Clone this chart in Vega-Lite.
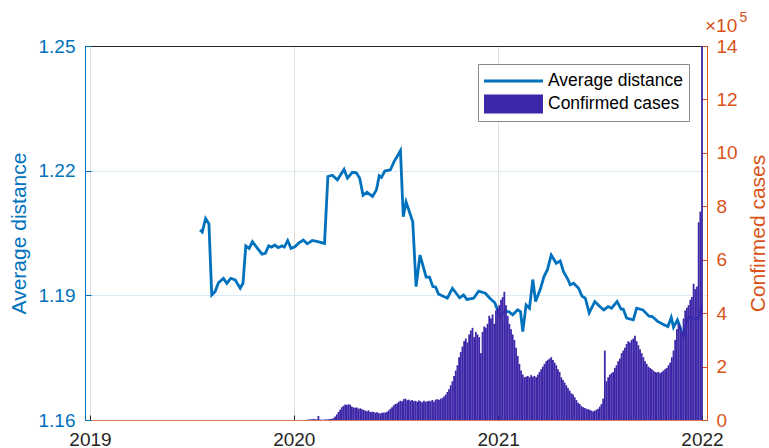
{
  "$schema": "https://vega.github.io/schema/vega-lite/v6.json",
  "width": 622,
  "height": 374,
  "autosize": "none",
  "padding": {"left": 85, "top": 46, "right": 62, "bottom": 28},
  "background": "white",
  "config": {
    "font": "Liberation Sans",
    "view": {"stroke": "#262626", "strokeWidth": 1},
    "axis": {
      "labelFont": "Liberation Sans",
      "titleFont": "Liberation Sans",
      "labelFontSize": 19,
      "titleFontSize": 21,
      "titleFontWeight": "normal",
      "domainWidth": 1,
      "tickWidth": 1
    }
  },
  "datasets": {
    "distance": [
      {"date": "2019-07-17", "avg": 1.2057}, {"date": "2019-07-21", "avg": 1.2052}, {"date": "2019-07-27", "avg": 1.2085},
      {"date": "2019-08-02", "avg": 1.2072}, {"date": "2019-08-07", "avg": 1.1901}, {"date": "2019-08-13", "avg": 1.1909},
      {"date": "2019-08-19", "avg": 1.1930}, {"date": "2019-08-28", "avg": 1.1941}, {"date": "2019-09-03", "avg": 1.1929},
      {"date": "2019-09-10", "avg": 1.1941}, {"date": "2019-09-18", "avg": 1.1937}, {"date": "2019-09-27", "avg": 1.1917},
      {"date": "2019-10-02", "avg": 1.1929}, {"date": "2019-10-07", "avg": 1.2019}, {"date": "2019-10-13", "avg": 1.2013},
      {"date": "2019-10-19", "avg": 1.2029}, {"date": "2019-10-28", "avg": 1.2013}, {"date": "2019-11-05", "avg": 1.1999},
      {"date": "2019-11-11", "avg": 1.2001}, {"date": "2019-11-17", "avg": 1.2019}, {"date": "2019-11-22", "avg": 1.2016},
      {"date": "2019-11-28", "avg": 1.2021}, {"date": "2019-12-04", "avg": 1.2015}, {"date": "2019-12-11", "avg": 1.2019},
      {"date": "2019-12-15", "avg": 1.2016}, {"date": "2019-12-21", "avg": 1.2032}, {"date": "2019-12-27", "avg": 1.2013},
      {"date": "2020-01-03", "avg": 1.2017}, {"date": "2020-01-09", "avg": 1.2025}, {"date": "2020-01-18", "avg": 1.2033},
      {"date": "2020-01-25", "avg": 1.2024}, {"date": "2020-02-03", "avg": 1.2032}, {"date": "2020-02-13", "avg": 1.2029},
      {"date": "2020-02-25", "avg": 1.2025}, {"date": "2020-03-02", "avg": 1.2186}, {"date": "2020-03-10", "avg": 1.2189},
      {"date": "2020-03-19", "avg": 1.2178}, {"date": "2020-03-31", "avg": 1.2203}, {"date": "2020-04-06", "avg": 1.2182},
      {"date": "2020-04-15", "avg": 1.2196}, {"date": "2020-04-22", "avg": 1.2195}, {"date": "2020-04-28", "avg": 1.2182},
      {"date": "2020-05-04", "avg": 1.2141}, {"date": "2020-05-11", "avg": 1.2148}, {"date": "2020-05-21", "avg": 1.2138},
      {"date": "2020-05-28", "avg": 1.2154}, {"date": "2020-06-02", "avg": 1.2188}, {"date": "2020-06-06", "avg": 1.2184},
      {"date": "2020-06-12", "avg": 1.2199}, {"date": "2020-06-22", "avg": 1.2202}, {"date": "2020-06-29", "avg": 1.2223},
      {"date": "2020-07-04", "avg": 1.2234}, {"date": "2020-07-10", "avg": 1.2248}, {"date": "2020-07-15", "avg": 1.2089},
      {"date": "2020-07-20", "avg": 1.2125}, {"date": "2020-08-01", "avg": 1.2077}, {"date": "2020-08-07", "avg": 1.1921},
      {"date": "2020-08-14", "avg": 1.1997}, {"date": "2020-08-25", "avg": 1.1944}, {"date": "2020-08-31", "avg": 1.1944},
      {"date": "2020-09-06", "avg": 1.1921}, {"date": "2020-09-11", "avg": 1.1920}, {"date": "2020-09-16", "avg": 1.1903},
      {"date": "2020-10-02", "avg": 1.1893}, {"date": "2020-10-11", "avg": 1.1917}, {"date": "2020-10-24", "avg": 1.1894},
      {"date": "2020-10-31", "avg": 1.1901}, {"date": "2020-11-06", "avg": 1.1890}, {"date": "2020-11-18", "avg": 1.1893},
      {"date": "2020-11-27", "avg": 1.1910}, {"date": "2020-12-09", "avg": 1.1905}, {"date": "2020-12-17", "avg": 1.1893},
      {"date": "2020-12-26", "avg": 1.1882}, {"date": "2021-01-04", "avg": 1.1849}, {"date": "2021-01-13", "avg": 1.1861},
      {"date": "2021-01-20", "avg": 1.1861}, {"date": "2021-01-27", "avg": 1.1853}, {"date": "2021-02-05", "avg": 1.1865},
      {"date": "2021-02-10", "avg": 1.1861}, {"date": "2021-02-14", "avg": 1.1813}, {"date": "2021-02-20", "avg": 1.1877},
      {"date": "2021-02-26", "avg": 1.1869}, {"date": "2021-03-04", "avg": 1.1938}, {"date": "2021-03-09", "avg": 1.1885},
      {"date": "2021-03-18", "avg": 1.1917}, {"date": "2021-03-24", "avg": 1.1945}, {"date": "2021-03-30", "avg": 1.1961},
      {"date": "2021-04-06", "avg": 1.1997}, {"date": "2021-04-15", "avg": 1.1977}, {"date": "2021-04-22", "avg": 1.1983},
      {"date": "2021-04-28", "avg": 1.1957}, {"date": "2021-05-06", "avg": 1.1938}, {"date": "2021-05-10", "avg": 1.1925},
      {"date": "2021-05-16", "avg": 1.1929}, {"date": "2021-05-25", "avg": 1.1917}, {"date": "2021-05-31", "avg": 1.1898},
      {"date": "2021-06-06", "avg": 1.1893}, {"date": "2021-06-13", "avg": 1.1858}, {"date": "2021-06-23", "avg": 1.1885},
      {"date": "2021-07-02", "avg": 1.1873}, {"date": "2021-07-09", "avg": 1.1865}, {"date": "2021-07-17", "avg": 1.1873},
      {"date": "2021-07-23", "avg": 1.1869}, {"date": "2021-08-02", "avg": 1.1885}, {"date": "2021-08-09", "avg": 1.1867},
      {"date": "2021-08-13", "avg": 1.1867}, {"date": "2021-08-19", "avg": 1.1845}, {"date": "2021-08-31", "avg": 1.1841},
      {"date": "2021-09-06", "avg": 1.1869}, {"date": "2021-09-17", "avg": 1.1865}, {"date": "2021-09-28", "avg": 1.1850},
      {"date": "2021-10-04", "avg": 1.1849}, {"date": "2021-10-13", "avg": 1.1838}, {"date": "2021-10-22", "avg": 1.1831},
      {"date": "2021-11-01", "avg": 1.1825}, {"date": "2021-11-07", "avg": 1.1847}, {"date": "2021-11-11", "avg": 1.1823},
      {"date": "2021-11-18", "avg": 1.1841}, {"date": "2021-11-29", "avg": 1.1801}, {"date": "2021-12-05", "avg": 1.1841},
      {"date": "2021-12-11", "avg": 1.1849}, {"date": "2021-12-20", "avg": 1.1841}, {"date": "2021-12-28", "avg": 1.1849},
      {"date": "2021-12-31", "avg": 1.1877}
    ],
    "cases": [
      {"date": "2020-01-21", "cases": 300}, {"date": "2020-01-24", "cases": 800}, {"date": "2020-01-27", "cases": 2000},
      {"date": "2020-01-30", "cases": 2000}, {"date": "2020-02-02", "cases": 3000}, {"date": "2020-02-05", "cases": 3700},
      {"date": "2020-02-08", "cases": 3000}, {"date": "2020-02-11", "cases": 2500}, {"date": "2020-02-14", "cases": 15000},
      {"date": "2020-02-17", "cases": 2000}, {"date": "2020-02-20", "cases": 1000}, {"date": "2020-02-23", "cases": 1000},
      {"date": "2020-02-26", "cases": 1500}, {"date": "2020-02-29", "cases": 2000}, {"date": "2020-03-03", "cases": 2500},
      {"date": "2020-03-06", "cases": 4000}, {"date": "2020-03-09", "cases": 4000}, {"date": "2020-03-12", "cases": 7000},
      {"date": "2020-03-15", "cases": 13000}, {"date": "2020-03-18", "cases": 21000}, {"date": "2020-03-21", "cases": 30000},
      {"date": "2020-03-24", "cases": 38000}, {"date": "2020-03-27", "cases": 48000}, {"date": "2020-03-30", "cases": 53000},
      {"date": "2020-04-02", "cases": 58000}, {"date": "2020-04-05", "cases": 56000}, {"date": "2020-04-08", "cases": 59000},
      {"date": "2020-04-11", "cases": 57000}, {"date": "2020-04-14", "cases": 50000}, {"date": "2020-04-17", "cases": 47000},
      {"date": "2020-04-20", "cases": 46000}, {"date": "2020-04-23", "cases": 47000}, {"date": "2020-04-26", "cases": 42000},
      {"date": "2020-04-29", "cases": 44000}, {"date": "2020-05-02", "cases": 40000}, {"date": "2020-05-05", "cases": 38000},
      {"date": "2020-05-08", "cases": 35000}, {"date": "2020-05-11", "cases": 33000}, {"date": "2020-05-14", "cases": 36000},
      {"date": "2020-05-17", "cases": 30000}, {"date": "2020-05-20", "cases": 31000}, {"date": "2020-05-23", "cases": 30000},
      {"date": "2020-05-26", "cases": 27000}, {"date": "2020-05-29", "cases": 29000}, {"date": "2020-06-01", "cases": 26000},
      {"date": "2020-06-04", "cases": 24000}, {"date": "2020-06-07", "cases": 27000}, {"date": "2020-06-10", "cases": 28000},
      {"date": "2020-06-13", "cases": 28000}, {"date": "2020-06-16", "cases": 31000}, {"date": "2020-06-19", "cases": 36000},
      {"date": "2020-06-22", "cases": 42000}, {"date": "2020-06-25", "cases": 48000}, {"date": "2020-06-28", "cases": 55000},
      {"date": "2020-07-01", "cases": 60000}, {"date": "2020-07-04", "cases": 62000}, {"date": "2020-07-07", "cases": 68000},
      {"date": "2020-07-10", "cases": 72000}, {"date": "2020-07-13", "cases": 70000}, {"date": "2020-07-16", "cases": 78000},
      {"date": "2020-07-19", "cases": 80000}, {"date": "2020-07-22", "cases": 74000}, {"date": "2020-07-25", "cases": 76000},
      {"date": "2020-07-28", "cases": 72000}, {"date": "2020-07-31", "cases": 75000}, {"date": "2020-08-03", "cases": 70000},
      {"date": "2020-08-06", "cases": 72000}, {"date": "2020-08-09", "cases": 68000}, {"date": "2020-08-12", "cases": 73000},
      {"date": "2020-08-15", "cases": 70000}, {"date": "2020-08-18", "cases": 66000}, {"date": "2020-08-21", "cases": 72000},
      {"date": "2020-08-24", "cases": 68000}, {"date": "2020-08-27", "cases": 70000}, {"date": "2020-08-30", "cases": 72000},
      {"date": "2020-09-02", "cases": 70000}, {"date": "2020-09-05", "cases": 75000}, {"date": "2020-09-08", "cases": 68000},
      {"date": "2020-09-11", "cases": 76000}, {"date": "2020-09-14", "cases": 78000}, {"date": "2020-09-17", "cases": 75000},
      {"date": "2020-09-20", "cases": 80000}, {"date": "2020-09-23", "cases": 82000}, {"date": "2020-09-26", "cases": 88000},
      {"date": "2020-09-29", "cases": 95000}, {"date": "2020-10-02", "cases": 105000}, {"date": "2020-10-05", "cases": 115000},
      {"date": "2020-10-08", "cases": 130000}, {"date": "2020-10-11", "cases": 145000}, {"date": "2020-10-14", "cases": 165000},
      {"date": "2020-10-17", "cases": 185000}, {"date": "2020-10-20", "cases": 205000}, {"date": "2020-10-23", "cases": 235000},
      {"date": "2020-10-26", "cases": 255000}, {"date": "2020-10-29", "cases": 275000}, {"date": "2020-11-01", "cases": 295000},
      {"date": "2020-11-04", "cases": 305000}, {"date": "2020-11-07", "cases": 290000}, {"date": "2020-11-10", "cases": 320000},
      {"date": "2020-11-13", "cases": 335000}, {"date": "2020-11-16", "cases": 345000}, {"date": "2020-11-19", "cases": 310000},
      {"date": "2020-11-22", "cases": 330000}, {"date": "2020-11-25", "cases": 320000}, {"date": "2020-11-28", "cases": 310000},
      {"date": "2020-12-01", "cases": 250000}, {"date": "2020-12-04", "cases": 330000}, {"date": "2020-12-07", "cases": 350000},
      {"date": "2020-12-10", "cases": 345000}, {"date": "2020-12-13", "cases": 360000}, {"date": "2020-12-16", "cases": 390000},
      {"date": "2020-12-19", "cases": 380000}, {"date": "2020-12-22", "cases": 395000}, {"date": "2020-12-25", "cases": 360000},
      {"date": "2020-12-28", "cases": 410000}, {"date": "2020-12-31", "cases": 420000}, {"date": "2021-01-03", "cases": 430000},
      {"date": "2021-01-06", "cases": 450000}, {"date": "2021-01-09", "cases": 460000}, {"date": "2021-01-12", "cases": 480000},
      {"date": "2021-01-15", "cases": 430000}, {"date": "2021-01-18", "cases": 390000}, {"date": "2021-01-21", "cases": 360000},
      {"date": "2021-01-24", "cases": 340000}, {"date": "2021-01-27", "cases": 320000}, {"date": "2021-01-30", "cases": 300000},
      {"date": "2021-02-02", "cases": 270000}, {"date": "2021-02-05", "cases": 240000}, {"date": "2021-02-08", "cases": 210000},
      {"date": "2021-02-11", "cases": 185000}, {"date": "2021-02-14", "cases": 170000}, {"date": "2021-02-17", "cases": 160000},
      {"date": "2021-02-20", "cases": 162000}, {"date": "2021-02-23", "cases": 165000}, {"date": "2021-02-26", "cases": 160000},
      {"date": "2021-03-01", "cases": 168000}, {"date": "2021-03-04", "cases": 162000}, {"date": "2021-03-07", "cases": 165000},
      {"date": "2021-03-10", "cases": 160000}, {"date": "2021-03-13", "cases": 170000}, {"date": "2021-03-16", "cases": 180000},
      {"date": "2021-03-19", "cases": 190000}, {"date": "2021-03-22", "cases": 200000}, {"date": "2021-03-25", "cases": 210000},
      {"date": "2021-03-28", "cases": 220000}, {"date": "2021-03-31", "cases": 225000}, {"date": "2021-04-03", "cases": 230000},
      {"date": "2021-04-06", "cases": 235000}, {"date": "2021-04-09", "cases": 225000}, {"date": "2021-04-12", "cases": 215000},
      {"date": "2021-04-15", "cases": 205000}, {"date": "2021-04-18", "cases": 190000}, {"date": "2021-04-21", "cases": 180000},
      {"date": "2021-04-24", "cases": 160000}, {"date": "2021-04-27", "cases": 150000}, {"date": "2021-04-30", "cases": 140000},
      {"date": "2021-05-03", "cases": 130000}, {"date": "2021-05-06", "cases": 120000}, {"date": "2021-05-09", "cases": 110000},
      {"date": "2021-05-12", "cases": 100000}, {"date": "2021-05-15", "cases": 95000}, {"date": "2021-05-18", "cases": 85000},
      {"date": "2021-05-21", "cases": 75000}, {"date": "2021-05-24", "cases": 65000}, {"date": "2021-05-27", "cases": 60000},
      {"date": "2021-05-30", "cases": 52000}, {"date": "2021-06-02", "cases": 48000}, {"date": "2021-06-05", "cases": 45000},
      {"date": "2021-06-08", "cases": 42000}, {"date": "2021-06-11", "cases": 40000}, {"date": "2021-06-14", "cases": 38000},
      {"date": "2021-06-17", "cases": 35000}, {"date": "2021-06-20", "cases": 32000}, {"date": "2021-06-23", "cases": 35000},
      {"date": "2021-06-26", "cases": 38000}, {"date": "2021-06-29", "cases": 42000}, {"date": "2021-07-02", "cases": 50000},
      {"date": "2021-07-05", "cases": 60000}, {"date": "2021-07-08", "cases": 80000}, {"date": "2021-07-11", "cases": 260000},
      {"date": "2021-07-14", "cases": 145000}, {"date": "2021-07-17", "cases": 160000}, {"date": "2021-07-20", "cases": 170000},
      {"date": "2021-07-23", "cases": 175000}, {"date": "2021-07-26", "cases": 180000}, {"date": "2021-07-29", "cases": 195000},
      {"date": "2021-08-01", "cases": 205000}, {"date": "2021-08-04", "cases": 220000}, {"date": "2021-08-07", "cases": 230000},
      {"date": "2021-08-10", "cases": 250000}, {"date": "2021-08-13", "cases": 260000}, {"date": "2021-08-16", "cases": 270000},
      {"date": "2021-08-19", "cases": 285000}, {"date": "2021-08-22", "cases": 295000}, {"date": "2021-08-25", "cases": 290000},
      {"date": "2021-08-28", "cases": 300000}, {"date": "2021-08-31", "cases": 305000}, {"date": "2021-09-03", "cases": 315000},
      {"date": "2021-09-06", "cases": 295000}, {"date": "2021-09-09", "cases": 280000}, {"date": "2021-09-12", "cases": 265000},
      {"date": "2021-09-15", "cases": 250000}, {"date": "2021-09-18", "cases": 235000}, {"date": "2021-09-21", "cases": 220000},
      {"date": "2021-09-24", "cases": 210000}, {"date": "2021-09-27", "cases": 200000}, {"date": "2021-09-30", "cases": 195000},
      {"date": "2021-10-03", "cases": 190000}, {"date": "2021-10-06", "cases": 185000}, {"date": "2021-10-09", "cases": 180000},
      {"date": "2021-10-12", "cases": 178000}, {"date": "2021-10-15", "cases": 180000}, {"date": "2021-10-18", "cases": 175000},
      {"date": "2021-10-21", "cases": 180000}, {"date": "2021-10-24", "cases": 185000}, {"date": "2021-10-27", "cases": 190000},
      {"date": "2021-10-30", "cases": 195000}, {"date": "2021-11-02", "cases": 205000}, {"date": "2021-11-05", "cases": 215000},
      {"date": "2021-11-08", "cases": 235000}, {"date": "2021-11-11", "cases": 260000}, {"date": "2021-11-14", "cases": 300000},
      {"date": "2021-11-17", "cases": 340000}, {"date": "2021-11-20", "cases": 360000}, {"date": "2021-11-23", "cases": 350000},
      {"date": "2021-11-26", "cases": 330000}, {"date": "2021-11-29", "cases": 380000}, {"date": "2021-12-02", "cases": 410000},
      {"date": "2021-12-05", "cases": 420000}, {"date": "2021-12-08", "cases": 430000}, {"date": "2021-12-11", "cases": 450000},
      {"date": "2021-12-14", "cases": 460000}, {"date": "2021-12-17", "cases": 510000}, {"date": "2021-12-20", "cases": 490000},
      {"date": "2021-12-23", "cases": 500000}, {"date": "2021-12-26", "cases": 740000}, {"date": "2021-12-29", "cases": 780000},
      {"date": "2022-01-01", "cases": 1400000}
    ]
  },
  "layer": [
    {
      "data": {"name": "distance"},
      "mark": {"type": "line", "strokeWidth": 2.8, "clip": true},
      "encoding": {
        "x": {
          "field": "date",
          "type": "temporal",
          "scale": {"type": "utc", "domain": [{"year": 2019, "month": 1, "date": 1, "utc": true}, {"year": 2022, "month": 1, "date": 1, "utc": true}]},
          "axis": {
            "title": null,
            "values": [
              {"year": 2019, "month": 1, "date": 1, "utc": true},
              {"year": 2020, "month": 1, "date": 1, "utc": true},
              {"year": 2021, "month": 1, "date": 1, "utc": true},
              {"year": 2022, "month": 1, "date": 1, "utc": true}
            ],
            "format": "%Y",
            "labelFlush": false,
            "labelOverlap": false,
            "labelColor": "#262626",
            "labelPadding": 15,
            "tickSize": -5,
            "tickColor": "#262626",
            "domainColor": "#D95319",
            "domainOpacity": 0.7,
            "grid": true,
            "gridColor": "#DFDFDF"
          }
        },
        "y": {
          "field": "avg",
          "type": "quantitative",
          "scale": {"domain": [1.16, 1.25], "zero": false, "nice": false},
          "axis": {
            "orient": "left",
            "title": "Average distance",
            "values": [1.16, 1.19, 1.22, 1.25],
            "format": ".2f",
            "titleColor": "#0072BD",
            "labelColor": "#0072BD",
            "tickColor": "#0072BD",
            "domainColor": "#0072BD",
            "grid": true,
            "gridColor": {"condition": {"test": "datum.value > 1.249", "value": "#262626"}, "value": "#D9EAF5"},
            "tickSize": -6,
            "labelPadding": 16,
            "titlePadding": 9
          }
        },
        "color": {
          "datum": "Average distance",
          "type": "nominal",
          "scale": {"domain": ["Average distance", "Confirmed cases"], "range": ["#0072BD", "#3E26A8"]},
          "legend": {
            "title": null,
            "orient": "top-right",
            "offset": 18,
            "padding": 6,
            "fillColor": "white",
            "strokeColor": "#8a8a8a",
            "labelFont": "Liberation Sans",
            "labelFontSize": 17.5,
            "labelColor": "#000000",
            "symbolSize": 3481,
            "symbolStrokeWidth": 0,
            "labelOffset": 5,
            "clipHeight": 22,
            "rowPadding": 1,
            "encode": {
              "symbols": {
                "update": {
                  "shape": {"signal": "datum.value === 'Average distance' ? 'M-1,-0.05H1V0.05H-1Z' : 'M-1,-0.32H1V0.32H-1Z'"},
                  "fill": {"signal": "datum.value === 'Average distance' ? '#0072BD' : '#3E26A8'"},
                  "fillOpacity": {"value": 1},
                  "opacity": {"value": 1},
                  "stroke": {"value": "transparent"}
                }
              }
            }
          }
        }
      }
    },
    {
      "data": {"name": "cases"},
      "mark": {"type": "bar", "width": 1.8, "clip": true, "orient": "vertical"},
      "encoding": {
        "x": {"field": "date", "type": "temporal"},
        "y": {
          "field": "cases",
          "type": "quantitative",
          "scale": {"domain": [0, 1400000], "nice": false},
          "axis": {
            "orient": "right",
            "title": "Confirmed cases",
            "values": [0, 200000, 400000, 600000, 800000, 1000000, 1200000, 1400000],
            "labelExpr": "datum.value / 100000",
            "titleColor": "#D95319",
            "labelColor": "#D95319",
            "tickColor": "#D95319",
            "domainColor": "#D95319",
            "grid": false,
            "tickSize": -6,
            "labelPadding": 15,
            "titlePadding": 10,
            "titleAngle": 270,
            "titleBaseline": "top"
          }
        },
        "color": {"datum": "Confirmed cases", "type": "nominal"}
      }
    },
    {
      "data": {"values": [{"label": "×10"}]},
      "mark": {"type": "text", "align": "left", "baseline": "alphabetic", "dx": 3, "dy": -14, "fontSize": 19, "font": "Liberation Sans", "color": "#D95319"},
      "encoding": {
        "text": {"field": "label", "type": "nominal"},
        "x": {"datum": {"year": 2022, "month": 1, "date": 1, "utc": true}, "type": "temporal"},
        "y": {"datum": 1400000, "type": "quantitative", "scale": {"domain": [0, 1400000], "nice": false}, "axis": null}
      }
    },
    {
      "data": {"values": [{"label": "5"}]},
      "mark": {"type": "text", "align": "left", "baseline": "alphabetic", "dx": 37.5, "dy": -24, "fontSize": 14, "font": "Liberation Sans", "color": "#D95319"},
      "encoding": {
        "text": {"field": "label", "type": "nominal"},
        "x": {"datum": {"year": 2022, "month": 1, "date": 1, "utc": true}, "type": "temporal"},
        "y": {"datum": 1400000, "type": "quantitative", "scale": {"domain": [0, 1400000], "nice": false}, "axis": null}
      }
    }
  ],
  "resolve": {"scale": {"y": "independent"}}
}
